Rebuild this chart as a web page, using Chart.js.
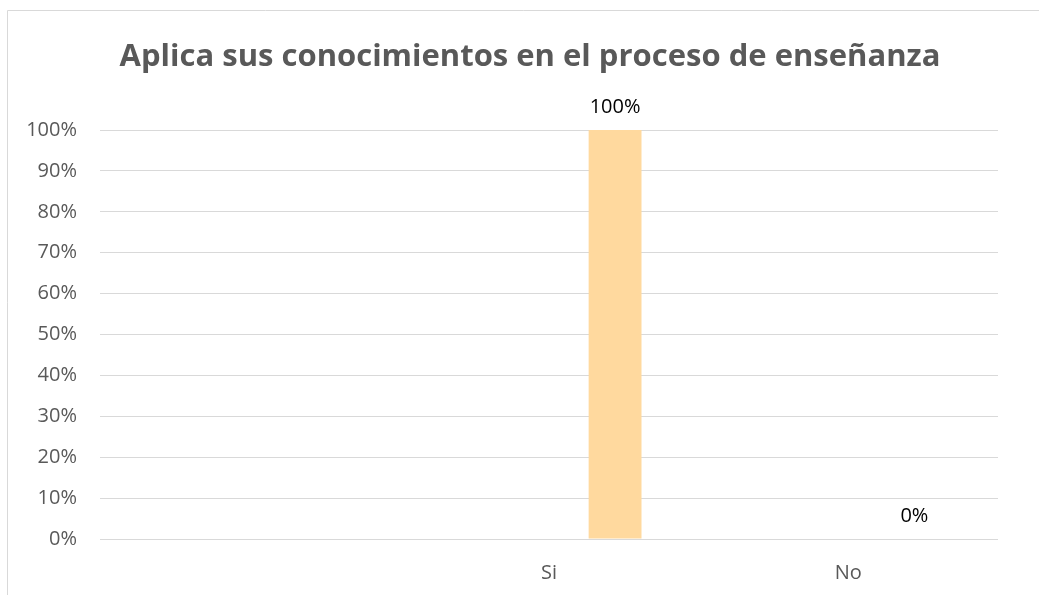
<!DOCTYPE html>
<html>
<head>
<meta charset="utf-8">
<script src="https://cdn.jsdelivr.net/npm/chart.js@4/dist/chart.umd.min.js"></script>
<style>
  body { margin: 0; background: #fff; }
</style>
</head>
<body>
<canvas id="grafico" width="1039" height="595"></canvas>
<script>
// datos
var categorias = ["", "Si", "No"];
var serieVacia = [null, null, null];
var porcentajes = [null, 1, 0];
var titulo = "Aplica sus conocimientos en el proceso de enseñanza";

var colorGrid = "#d9d9d9";
var colorTexto = "#595959";

// borde del area del grafico y titulo (como en Excel)
var bordePlugin = {
    id: "borde",
    beforeDraw: function(chart) {
        var ctx = chart.ctx;
        ctx.save();
        ctx.strokeStyle = colorGrid;
        ctx.lineWidth = 1;
        ctx.beginPath();
        ctx.moveTo(7.5, 595);
        ctx.lineTo(7.5, 10.5);
        ctx.lineTo(1039, 10.5);
        ctx.stroke();

        ctx.font = "bold 31px 'Open Sans'";
        ctx.fillStyle = colorTexto;
        ctx.textAlign = "center";
        ctx.textBaseline = "middle";
        ctx.fillText(titulo, 530, 57);
        ctx.restore();
    }
};

// etiquetas de datos encima de las barras
var etiquetasPlugin = {
    id: "etiquetas",
    afterDatasetsDraw: function(chart) {
        var ctx = chart.ctx;
        ctx.save();
        ctx.font = "20px 'Open Sans'";
        ctx.fillStyle = "#000";
        ctx.textAlign = "center";
        ctx.textBaseline = "alphabetic";
        var meta = chart.getDatasetMeta(1);
        meta.data.forEach(function(bar, i) {
            var v = porcentajes[i];
            if (v === null) return;
            ctx.fillText(Math.round(v * 100) + "%", bar.x, bar.y - 17);
        });
        ctx.restore();
    }
};

new Chart(document.getElementById("grafico"), {
    type: "bar",
    data: {
        labels: categorias,
        datasets: [
            {
                label: "Serie 1",
                data: serieVacia,
                backgroundColor: "#5b9bd5"
            },
            {
                label: "Porcentaje",
                data: porcentajes,
                backgroundColor: "#ffd99e"
            }
        ]
    },
    plugins: [bordePlugin, etiquetasPlugin],
    options: {
        responsive: false,
        animation: false,
        datasets: {
            bar: {
                categoryPercentage: 0.883,
                barPercentage: 0.40
            }
        },
        layout: {
            padding: { left: 0, right: 41, top: 130, bottom: 0 }
        },
        plugins: {
            legend: { display: false },
            tooltip: { enabled: false },
            title: { display: false }
        },
        scales: {
            x: {
                grid: { display: false },
                border: { display: false },
                ticks: {
                    color: colorTexto,
                    font: { family: "'Open Sans'", size: 20 },
                    padding: 14
                },
                afterFit: function(scale) { scale.height = 56; }
            },
            y: {
                min: 0,
                max: 1,
                grid: { color: colorGrid, lineWidth: 1, drawTicks: false },
                border: { display: false },
                ticks: {
                    stepSize: 0.1,
                    color: colorTexto,
                    font: { family: "'Open Sans'", size: 20 },
                    padding: 23,
                    callback: function(v) { return Math.round(v * 100) + "%"; }
                },
                afterFit: function(scale) { scale.width = 100; }
            }
        }
    }
});
</script>
</body>
</html>
